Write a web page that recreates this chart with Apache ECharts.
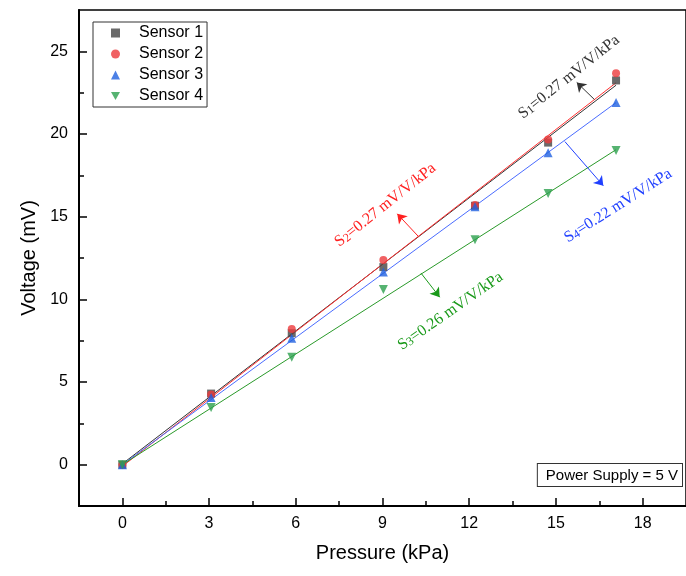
<!DOCTYPE html>
<html>
<head>
<meta charset="utf-8">
<script src="https://cdn.jsdelivr.net/npm/echarts@6/dist/echarts.min.js"></script>
<style>
  html, body { margin: 0; padding: 0; background: #fff; }
  #chart-container { width: 686px; height: 576px; }
</style>
</head>
<body>
<div id="chart-container"></div>
<script>
// Pressure points (kPa)
const pressure = [0, 3.07, 5.86, 9.03, 12.2, 14.73, 17.08];
// Measured voltages (mV)
const sensor1 = [0, 4.3, 7.95, 11.95, 15.66, 19.48, 23.24];
const sensor2 = [0, 4.25, 8.2, 12.38, 15.7, 19.66, 23.67];
const sensor3 = [0, 4.07, 7.65, 11.65, 15.6, 18.87, 21.9];
const sensor4 = [0, 3.46, 6.5, 10.6, 13.6, 16.4, 19.0];
// Linear fit lines: values at first and last pressure
const fitX = [0, 17.08];
const fit1 = [0.05, 22.95];
const fit2 = [-0.1, 23.1];
const fit3 = [0, 21.9];
const fit4 = [0, 19.05];
// Tick labels
const xTicks = [0, 3, 6, 9, 12, 15, 18];
const xMinor = [1.5, 4.5, 7.5, 10.5, 13.5, 16.5];
const yTicks = [0, 5, 10, 15, 20, 25];
const yMinor = [2.5, 7.5, 12.5, 17.5, 22.5];

const serifFont = '"Liberation Serif", "DejaVu Serif", serif';
const sansFont = '"Liberation Sans", Arial, sans-serif';

const pairs = (xs, ys) => xs.map((x, i) => [x, ys[i]]);

var myChart = echarts.init(document.getElementById('chart-container'));

// helper for an extra axis that only draws ticks
const tickAxis = (min, max, pos, values, len) => ({
    type: 'value', min: min, max: max, position: pos,
    axisLine: { show: false, onZero: false },
    splitLine: { show: false },
    axisTick: { show: true, inside: true, length: len, customValues: values, lineStyle: { color: '#000', width: 1.5 } },
    axisLabel: { show: false }
});

var option = {
    animation: false,
    backgroundColor: '#fff',
    grid: {
        left: 79, top: 10, right: -9, bottom: 70,
        show: true, borderColor: '#000', borderWidth: 1.5
    },
    legend: {
        orient: 'vertical',
        left: 93, top: 22,
        data: [
            { name: 'Sensor 1' },
            { name: 'Sensor 2' },
            { name: 'Sensor 3' },
            { name: 'Sensor 4', icon: 'path://M0,0 L10,0 L5,9 Z' }
        ],
        itemWidth: 9, itemHeight: 9, itemGap: 5,
        padding: [3, 4, 3, 18],
        borderColor: '#333', borderWidth: 1,
        textStyle: { fontFamily: sansFont, fontSize: 16, color: '#000', padding: [0, 0, 0, 14] }
    },
    xAxis: [
        {
            type: 'value', min: -1.5, max: 19.5,
            axisLine: { show: true, onZero: false, lineStyle: { color: '#000', width: 2 } },
            splitLine: { show: false },
            name: 'Pressure (kPa)', nameLocation: 'middle', nameGap: 37,
            nameTextStyle: { fontFamily: sansFont, fontSize: 20, color: '#000' },
            axisTick: { show: false },
            axisLabel: { customValues: xTicks, fontFamily: sansFont, fontSize: 16, color: '#000', margin: 10 }
        },
        tickAxis(-1.5, 19.5, 'bottom', xTicks, 8),
        tickAxis(-1.5, 19.5, 'bottom', xMinor, 5)
    ],
    yAxis: [
        {
            type: 'value', min: -2.5, max: 27.5,
            axisLine: { show: true, onZero: false, lineStyle: { color: '#000', width: 2 } },
            splitLine: { show: false },
            name: 'Voltage (mV)', nameLocation: 'middle', nameGap: 37,
            nameTextStyle: { fontFamily: sansFont, fontSize: 20, color: '#000' },
            axisTick: { show: false },
            axisLabel: { customValues: yTicks, fontFamily: sansFont, fontSize: 16, color: '#000', margin: 11 }
        },
        tickAxis(-2.5, 27.5, 'left', yTicks, 8),
        tickAxis(-2.5, 27.5, 'left', yMinor, 5)
    ],
    series: [
        { name: 'fit1', type: 'line', data: pairs(fitX, fit1), showSymbol: false, silent: true,
          lineStyle: { color: '#333', width: 1 }, z: 2 },
        { name: 'fit2', type: 'line', data: pairs(fitX, fit2), showSymbol: false, silent: true,
          lineStyle: { color: '#ff3030', width: 1 }, z: 2 },
        { name: 'fit3', type: 'line', data: pairs(fitX, fit3), showSymbol: false, silent: true,
          lineStyle: { color: '#4a6cff', width: 1 }, z: 2 },
        { name: 'fit4', type: 'line', data: pairs(fitX, fit4), showSymbol: false, silent: true,
          lineStyle: { color: '#2a9a2a', width: 1 }, z: 2,
          markLine: {
              silent: true, symbol: ['none', 'arrow'], symbolSize: 9,
              label: { show: false },
              data: [
                  [{ coord: [16.33, 22.09], symbol: 'none', lineStyle: { color: '#333', width: 1, type: 'solid' }, itemStyle: { color: '#333' } },
                   { coord: [15.72, 23.12], symbol: 'arrow', symbolSize: 9 }],
                  [{ coord: [10.26, 13.77], symbol: 'none', lineStyle: { color: '#ff2020', width: 1, type: 'solid' }, itemStyle: { color: '#ff2020' } },
                   { coord: [9.51, 15.17], symbol: 'arrow', symbolSize: 9 }],
                  [{ coord: [10.33, 11.59], symbol: 'none', lineStyle: { color: '#1a9a1a', width: 1, type: 'solid' }, itemStyle: { color: '#1a9a1a' } },
                   { coord: [10.98, 10.13], symbol: 'arrow', symbolSize: 9 }],
                  [{ coord: [15.31, 19.54], symbol: 'none', lineStyle: { color: '#2040ff', width: 1, type: 'solid' }, itemStyle: { color: '#2040ff' } },
                   { coord: [16.64, 16.87], symbol: 'arrow', symbolSize: 9 }]
              ]
          }
        },
        { name: 'Sensor 1', type: 'scatter', data: pairs(pressure, sensor1), symbol: 'rect', symbolSize: 8,
          itemStyle: { color: '#454545' }, z: 3 },
        { name: 'Sensor 2', type: 'scatter', data: pairs(pressure, sensor2), symbol: 'circle', symbolSize: 8,
          itemStyle: { color: '#ec3a3c' }, z: 3 },
        { name: 'Sensor 3', type: 'scatter', data: pairs(pressure, sensor3), symbol: 'triangle', symbolSize: 9,
          itemStyle: { color: '#1f60e0' }, z: 3 },
        { name: 'Sensor 4', type: 'scatter', data: pairs(pressure, sensor4), symbol: 'triangle', symbolRotate: 180, symbolSize: 9,
          itemStyle: { color: '#2ca04e' }, z: 3 }
    ]
};

myChart.setOption(option);

// Slope annotations placed in data coordinates
const notes = [
    { sub: '1', text: '=0.27 mV/V/kPa', at: [15.45, 23.45], angle: 38.5, color: '#333' },
    { sub: '2', text: '=0.27 mV/V/kPa', at: [9.1, 15.7], angle: 38.5, color: '#ff2020' },
    { sub: '3', text: '=0.26 mV/V/kPa', at: [11.35, 9.28], angle: 35, color: '#1a9a1a' },
    { sub: '4', text: '=0.22 mV/V/kPa', at: [17.15, 15.66], angle: 32.5, color: '#2040ff' }
];

const graphics = notes.map(n => {
    const p = myChart.convertToPixel({ gridIndex: 0 }, n.at);
    return {
        type: 'text', x: p[0], y: p[1], rotation: n.angle * Math.PI / 180, z: 10,
        style: {
            text: '{n|S}{s|' + n.sub + '}{n|' + n.text + '}',
            align: 'center', verticalAlign: 'middle', fill: n.color,
            rich: {
                n: { fontFamily: serifFont, fontSize: 16, fill: n.color, lineHeight: 16, verticalAlign: 'top' },
                s: { fontFamily: serifFont, fontSize: 12, fill: n.color, lineHeight: 12, verticalAlign: 'bottom' }
            }
        }
    };
});

graphics.push({
    type: 'text', right: 3, top: 463, z: 10,
    style: {
        text: 'Power Supply = 5 V',
        fontFamily: sansFont, fontSize: 15, fill: '#000',
        backgroundColor: '#fff', borderColor: '#333', borderWidth: 1,
        padding: [4, 4, 3, 8]
    }
});

myChart.setOption({ graphic: graphics });
</script>
</body>
</html>
